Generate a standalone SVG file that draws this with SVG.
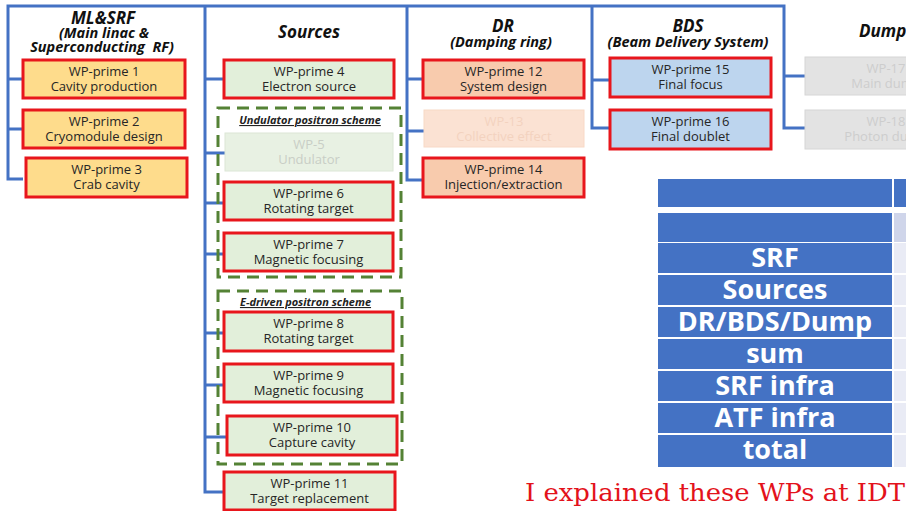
<svg xmlns="http://www.w3.org/2000/svg" width="906" height="511" viewBox="0 0 906 511">
<style>
.bg{fill:#ffffff}
.con{fill:none;stroke:#4472C4;stroke-width:3;stroke-linejoin:miter}
.wp{stroke:#E8161C;stroke-width:3}
.ml{fill:#FEDC8C}
.src{fill:#E2EFDA}
.dr{fill:#F8CBAD}
.bds{fill:#BDD5EE}
.t{font-family:"Open Sans","Liberation Sans",sans-serif;font-size:13px;fill:#262626;text-anchor:middle}
.h1{font-family:"Open Sans","Liberation Sans",sans-serif;font-size:17px;font-weight:bold;font-style:italic;fill:#111;text-anchor:middle}
.h2{font-family:"Open Sans","Liberation Sans",sans-serif;font-size:14.5px;font-weight:bold;font-style:italic;fill:#111;text-anchor:middle}
.sch{fill:none;stroke:#548235;stroke-width:3;stroke-dasharray:12 7}
.schl{font-family:"Open Sans","Liberation Sans",sans-serif;font-size:11px;font-weight:bold;font-style:italic;fill:#222;text-anchor:middle;text-decoration:underline}
.tb{fill:#4472C4}
.tt{font-family:"Open Sans","Liberation Sans",sans-serif;font-size:27px;font-weight:bold;fill:#ffffff;text-anchor:middle}
</style>
<rect class="bg" x="0" y="0" width="906" height="511"/>

<g id="connectors">
<path class="con" d="M23,179 H8 V6 H784 V128 H805"/>
<path class="con" d="M8,79 H23 M8,129 H23"/>
<path class="con" d="M205,6 V492 H224 M205,79 H224 M205,153 H225 M205,203 H224 M205,254 H224 M205,333 H224 M205,385 H224 M205,437 H227"/>
<path class="con" d="M407,6 V180 H423 M407,79 H423 M407,131 H424"/>
<path class="con" d="M592,6 V128 H610 M592,80 H610"/>
<path class="con" d="M784,76 H805"/>
</g>

<g id="titles">
<text class="h1" x="103" y="24">ML&amp;SRF</text>
<text class="h2" x="104" y="38">(Main linac &amp;</text>
<text class="h2" x="102" y="52" xml:space="preserve">Superconducting  RF)</text>
<text class="h1" x="309" y="38">Sources</text>
<text class="h1" x="503" y="32">DR</text>
<text class="h2" x="501" y="47">(Damping ring)</text>
<text class="h1" x="688" y="32">BDS</text>
<text class="h2" x="688" y="47">(Beam Delivery System)</text>
<text class="h1" x="859" y="37" style="text-anchor:start">Dump</text>
</g>

<g id="scheme-undulator">
<rect class="sch" x="218" y="108" width="183" height="169"/>
<text class="schl" x="310" y="124">Undulator positron scheme</text>
</g>
<g id="scheme-edriven">
<rect class="sch" x="218" y="291" width="184" height="173"/>
<text class="schl" x="305.5" y="306">E-driven positron scheme</text>
</g>

<g id="wp1"><rect class="wp ml" x="23" y="60" width="162" height="38"/><text class="t" x="104" y="75.5">WP-prime 1</text><text class="t" x="104" y="90.5">Cavity production</text></g>
<g id="wp2"><rect class="wp ml" x="23" y="110" width="162" height="38"/><text class="t" x="104" y="125.5">WP-prime 2</text><text class="t" x="104" y="140.5">Cryomodule design</text></g>
<g id="wp3"><rect class="wp ml" x="26" y="158" width="161" height="39"/><text class="t" x="106.5" y="174">WP-prime 3</text><text class="t" x="106.5" y="189">Crab cavity</text></g>

<g id="wp4"><rect class="wp src" x="224" y="60" width="170" height="38"/><text class="t" x="309" y="75.5">WP-prime 4</text><text class="t" x="309" y="90.5">Electron source</text></g>
<g id="wp5"><rect x="225" y="133" width="168" height="38" fill="#E8F1E3" stroke="#DCE6D6" stroke-width="1"/><text class="t" x="309" y="148.5" style="fill:#C9CEC6">WP-5</text><text class="t" x="309" y="163.5" style="fill:#C9CEC6">Undulator</text></g>
<g id="wp6"><rect class="wp src" x="224" y="182" width="169" height="38"/><text class="t" x="308.5" y="197.5">WP-prime 6</text><text class="t" x="308.5" y="212.5">Rotating target</text></g>
<g id="wp7"><rect class="wp src" x="224" y="233" width="169" height="38"/><text class="t" x="308.5" y="248.5">WP-prime 7</text><text class="t" x="308.5" y="263.5">Magnetic focusing</text></g>
<g id="wp8"><rect class="wp src" x="224" y="312" width="169" height="39"/><text class="t" x="308.5" y="328">WP-prime 8</text><text class="t" x="308.5" y="343">Rotating target</text></g>
<g id="wp9"><rect class="wp src" x="224" y="364" width="169" height="38"/><text class="t" x="308.5" y="379.5">WP-prime 9</text><text class="t" x="308.5" y="394.5">Magnetic focusing</text></g>
<g id="wp10"><rect class="wp src" x="227" y="416" width="170" height="39"/><text class="t" x="312" y="432">WP-prime 10</text><text class="t" x="312" y="447">Capture cavity</text></g>
<g id="wp11"><rect class="wp src" x="224" y="472" width="171" height="38"/><text class="t" x="309.5" y="487.5">WP-prime 11</text><text class="t" x="309.5" y="502.5">Target replacement</text></g>

<g id="wp12"><rect class="wp dr" x="423" y="60" width="161" height="38"/><text class="t" x="503.5" y="75.5">WP-prime 12</text><text class="t" x="503.5" y="90.5">System design</text></g>
<g id="wp13"><rect x="424" y="110" width="160" height="37" fill="#FBE2D3" stroke="#F8D9C6" stroke-width="1"/><text class="t" x="504" y="125.5" style="fill:#F3D2BF">WP-13</text><text class="t" x="504" y="140.5" style="fill:#F3D2BF">Collective effect</text></g>
<g id="wp14"><rect class="wp dr" x="423" y="158" width="161" height="39"/><text class="t" x="503.5" y="174">WP-prime 14</text><text class="t" x="503.5" y="189">Injection/extraction</text></g>

<g id="wp15"><rect class="wp bds" x="610" y="58" width="161" height="39"/><text class="t" x="690.5" y="74">WP-prime 15</text><text class="t" x="690.5" y="89">Final focus</text></g>
<g id="wp16"><rect class="wp bds" x="610" y="110" width="161" height="39"/><text class="t" x="690.5" y="126">WP-prime 16</text><text class="t" x="690.5" y="141">Final doublet</text></g>

<g id="wp17"><rect x="805" y="57" width="162" height="38" fill="#E3E3E3" stroke="#D6D6D6" stroke-width="1"/><text class="t" x="886" y="72.5" style="fill:#CDCDCD">WP-17</text><text class="t" x="886" y="87.5" style="fill:#CDCDCD">Main dump</text></g>
<g id="wp18"><rect x="805" y="110" width="162" height="39" fill="#E3E3E3" stroke="#D6D6D6" stroke-width="1"/><text class="t" x="886" y="126" style="fill:#CDCDCD">WP-18</text><text class="t" x="886" y="141" style="fill:#CDCDCD">Photon dump</text></g>

<g id="table">
<rect class="tb" x="658" y="179" width="234" height="28"/>
<rect class="tb" x="894" y="179" width="12" height="28"/>
<rect class="tb" x="658" y="213" width="234" height="29"/>
<rect x="894" y="213" width="12" height="29" fill="#CFD5EA"/>
<rect class="tb" x="658" y="243" width="234" height="30"/>
<rect x="894" y="243" width="12" height="30" fill="#E9EBF5"/>
<rect class="tb" x="658" y="275" width="234" height="30"/>
<rect x="894" y="275" width="12" height="30" fill="#E9EBF5"/>
<rect class="tb" x="658" y="307" width="234" height="30"/>
<rect x="894" y="307" width="12" height="30" fill="#E9EBF5"/>
<rect class="tb" x="658" y="339" width="234" height="30"/>
<rect x="894" y="339" width="12" height="30" fill="#E9EBF5"/>
<rect class="tb" x="658" y="371" width="234" height="30"/>
<rect x="894" y="371" width="12" height="30" fill="#E9EBF5"/>
<rect class="tb" x="658" y="403" width="234" height="30"/>
<rect x="894" y="403" width="12" height="30" fill="#E9EBF5"/>
<rect class="tb" x="658" y="435" width="234" height="32"/>
<rect x="894" y="435" width="12" height="32" fill="#E9EBF5"/>
<text class="tt" x="775" y="267">SRF</text>
<text class="tt" x="775" y="299">Sources</text>
<text class="tt" x="775" y="331">DR/BDS/Dump</text>
<text class="tt" x="775" y="363">sum</text>
<text class="tt" x="775" y="395">SRF infra</text>
<text class="tt" x="775" y="427">ATF infra</text>
<text class="tt" x="775" y="459">total</text>
</g>

<text x="525" y="501" font-family="DejaVu Serif, Liberation Serif, serif" font-size="25" fill="#E3121B" textLength="380" lengthAdjust="spacingAndGlyphs">I explained these WPs at IDT</text>
</svg>
